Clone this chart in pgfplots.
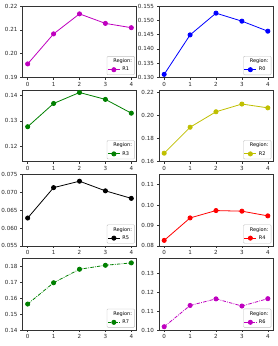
\documentclass[border=0pt]{standalone}
\usepackage{fontspec}
\setmainfont{DejaVu Sans}
\usepackage{pgfplots}
\pgfplotsset{compat=1.18}
\definecolor{mplm}{rgb}{0.75,0,0.75}
\definecolor{mply}{rgb}{0.75,0.75,0}
\definecolor{mplg}{rgb}{0,0.5,0}
\definecolor{mplb}{rgb}{0,0,1}
\definecolor{mplr}{rgb}{1,0,0}
\definecolor{mplk}{rgb}{0,0,0}
\pgfplotsset{
  base/.style={
    scale only axis, width=114pt, height=71.5pt, anchor=north west,
    xmin=-0.2, xmax=4.2, xtick={0,1,2,3,4},
    scaled y ticks=false,
    tick pos=left, tick align=outside, major tick length=2pt,
    axis line style={line width=0.5pt, black!80},
    every tick/.style={black!80, line width=0.5pt},
    tick label style={font=\fontsize{5.6}{6.5}\selectfont, text=black!85},
    /pgf/number format/assume math mode=true,
    xticklabel style={yshift=1pt},
    yticklabel style={xshift=0.5pt},
    legend style={at={(0.985,0.035)}, anchor=south east, font=\fontsize{5}{6}\selectfont,
      draw=black!25, rounded corners=1pt, inner sep=0.5pt, row sep=-1pt,
      cells={anchor=west}},
    legend image code/.code={\draw[mark repeat=2,mark phase=2,##1] plot coordinates {(0pt,0pt)(6pt,0pt)(12pt,0pt)};},
  },
  p2/.style={yticklabel style={/pgf/number format/fixed,/pgf/number format/precision=2,/pgf/number format/fixed zerofill}},
  p3/.style={yticklabel style={/pgf/number format/fixed,/pgf/number format/precision=3,/pgf/number format/fixed zerofill}},
  ser/.style={color=#1, line width=0.8pt, mark=*, mark size=2.1pt, mark options={solid, fill=#1}},
  dd/.style={dash pattern=on 3.5pt off 1.2pt on 0.8pt off 1.2pt},
}
\newcommand{\legtitle}{\addlegendimage{empty legend}\addlegendentry{\hspace*{-9pt}Region:}}
\begin{document}
\begin{tikzpicture}
\useasboundingbox (0,-346pt) rectangle (277pt,0pt);
% Row 1
\begin{axis}[base, p2, at={(22.5pt,-6pt)}, ymin=0.19, ymax=0.22, ytick={0.19,0.20,0.21,0.22}]
\legtitle
\addplot[ser=mplm] coordinates {(0,0.1957) (1,0.2083) (2,0.2167) (3,0.2127) (4,0.2109)};
\addlegendentry{R1}
\end{axis}
\begin{axis}[base, p3, at={(159pt,-6pt)}, ymin=0.130, ymax=0.155, ytick={0.130,0.135,0.140,0.145,0.150,0.155}]
\legtitle
\addplot[ser=mplb] coordinates {(0,0.1311) (1,0.1449) (2,0.1525) (3,0.1497) (4,0.1462)};
\addlegendentry{R0}
\end{axis}
% Row 2
\begin{axis}[base, p2, at={(22.5pt,-90.2pt)}, ymin=0.114, ymax=0.142, ytick={0.12,0.13,0.14}]
\legtitle
\addplot[ser=mplg] coordinates {(0,0.1277) (1,0.1368) (2,0.1411) (3,0.1384) (4,0.1330)};
\addlegendentry{R3}
\end{axis}
\begin{axis}[base, p2, at={(159pt,-90.2pt)}, ymin=0.16, ymax=0.222, ytick={0.16,0.18,0.20,0.22}]
\legtitle
\addplot[ser=mply] coordinates {(0,0.1674) (1,0.1899) (2,0.2033) (3,0.2100) (4,0.2067)};
\addlegendentry{R2}
\end{axis}
% Row 3
\begin{axis}[base, p3, at={(22.5pt,-174.4pt)}, ymin=0.055, ymax=0.075, ytick={0.055,0.060,0.065,0.070,0.075}]
\legtitle
\addplot[ser=mplk] coordinates {(0,0.0628) (1,0.0713) (2,0.0731) (3,0.0704) (4,0.0683)};
\addlegendentry{R5}
\end{axis}
\begin{axis}[base, p2, at={(159pt,-174.4pt)}, ymin=0.08, ymax=0.115, ytick={0.08,0.09,0.10,0.11}]
\legtitle
\addplot[ser=mplr] coordinates {(0,0.0827) (1,0.0937) (2,0.0973) (3,0.0970) (4,0.0947)};
\addlegendentry{R4}
\end{axis}
% Row 4
\begin{axis}[base, p2, at={(22.5pt,-258.6pt)}, ymin=0.14, ymax=0.185, ytick={0.14,0.15,0.16,0.17,0.18}]
\legtitle
\addplot[ser=mplg, dd] coordinates {(0,0.1564) (1,0.1698) (2,0.1783) (3,0.1808) (4,0.1823)};
\addlegendentry{R7}
\end{axis}
\begin{axis}[base, p2, at={(159pt,-258.6pt)}, ymin=0.10, ymax=0.138, ytick={0.10,0.11,0.12,0.13}]
\legtitle
\addplot[ser=mplm, dd] coordinates {(0,0.1018) (1,0.1131) (2,0.1166) (3,0.1128) (4,0.1167)};
\addlegendentry{R6}
\end{axis}
\end{tikzpicture}
\end{document}
